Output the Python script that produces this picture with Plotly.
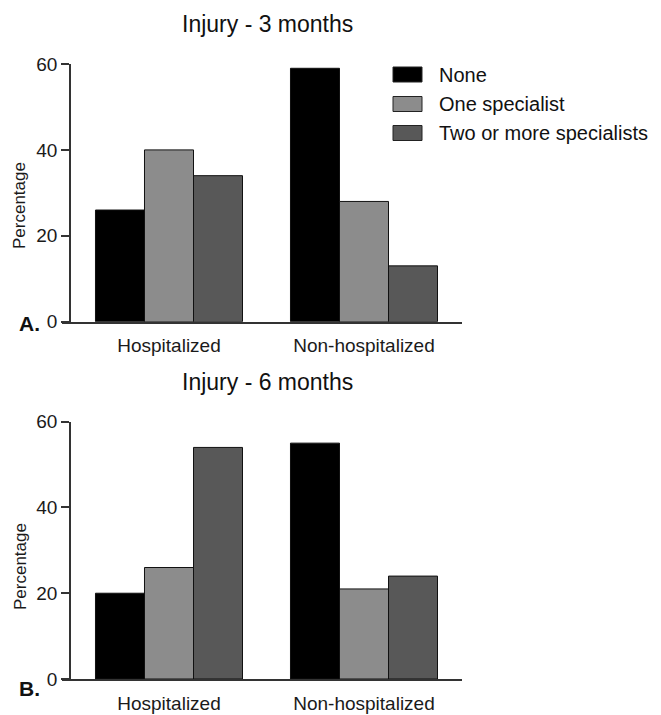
import plotly.graph_objects as go

categories = ["Hospitalized", "Non-hospitalized"]
series_names = ["None", "One specialist", "Two or more specialists"]
values_3m = {
    "None": [26, 59],
    "One specialist": [40, 28],
    "Two or more specialists": [34, 13],
}
values_6m = {
    "None": [20, 55],
    "One specialist": [26, 21],
    "Two or more specialists": [54, 24],
}
titles = ["Injury - 3 months", "Injury - 6 months"]
panel_labels = ["A.", "B."]
y_ticks = [0, 20, 40, 60]

colors = {"None": "#000000", "One specialist": "#8c8c8c", "Two or more specialists": "#585858"}

W, H = 661, 715
ML, MR = 62, 199
PW = W - ML - MR


def px2x(px):
    return (px - ML) / PW


def py2y(py):
    return 1 - py / H


FONT = "Liberation Sans, Arial, sans-serif"
fig = go.Figure()

for i, vals in enumerate([values_3m, values_6m]):
    xa = "x" if i == 0 else "x2"
    ya = "y" if i == 0 else "y2"
    for name in series_names:
        fig.add_trace(go.Bar(
            x=categories, y=vals[name], name=name, xaxis=xa, yaxis=ya,
            marker=dict(color=colors[name], line=dict(color="#111111", width=1)),
            showlegend=False,
        ))

domains = [[py2y(321.7), py2y(64)], [py2y(679), py2y(421.7)]]
axis_line = "#333333"
for i in range(2):
    sfx = "" if i == 0 else "2"
    fig.update_layout(**{
        "xaxis" + sfx: dict(
            domain=[0, 1], anchor="y" + sfx, type="category", automargin=False,
            range=[-0.5487, 1.5026], showline=True, linecolor=axis_line, linewidth=1.5,
            ticks="outside", ticklen=6, tickcolor="rgba(0,0,0,0)",
            tickfont=dict(family=FONT, size=19, color="#1a1a1a"), showgrid=False,
            zeroline=False, fixedrange=True,
        ),
        "yaxis" + sfx: dict(
            domain=domains[i], anchor="free", position=8 / PW, range=[0, 60], automargin=False,
            tickvals=y_ticks, ticks="outside", ticklen=8, tickwidth=1.5, tickcolor=axis_line,
            showline=True, linecolor=axis_line, linewidth=1.5, showgrid=False, zeroline=False,
            tickfont=dict(family=FONT, size=19, color="#1a1a1a"),
        ),
    })

annotations = []
title_y = [24, 382]
label_y = [323, 688]
ytitle_y = [206, 567]
for i in range(2):
    annotations.append(dict(text=titles[i], x=px2x(267), y=py2y(title_y[i]), xref="paper", yref="paper",
                            showarrow=False, font=dict(family=FONT, size=23, color="#111111"),
                            xanchor="center", yanchor="middle"))
    annotations.append(dict(text="<b>" + panel_labels[i] + "</b>", x=px2x(17), y=py2y(label_y[i]),
                            xref="paper", yref="paper", showarrow=False,
                            font=dict(family=FONT, size=21, color="#111111"),
                            xanchor="left", yanchor="middle"))
    annotations.append(dict(text="Percentage", x=px2x(20), y=py2y(ytitle_y[i]), xref="paper", yref="paper",
                            showarrow=False, textangle=-90,
                            font=dict(family=FONT, size=17, color="#1a1a1a"),
                            xanchor="center", yanchor="middle"))

shapes = []
legend_rows = [74.5, 104, 133]
for name, cy in zip(series_names, legend_rows):
    shapes.append(dict(type="rect", xref="paper", yref="paper",
                       x0=px2x(393), x1=px2x(422), y0=py2y(cy + 7.5), y1=py2y(cy - 7.5),
                       fillcolor=colors[name], line=dict(color="#222222", width=1)))
    annotations.append(dict(text=name, x=px2x(437), y=py2y(cy), xref="paper", yref="paper",
                            showarrow=False, xanchor="left", yanchor="middle",
                            font=dict(family=FONT, size=20, color="#111111")))

fig.update_layout(
    width=W, height=H, margin=dict(l=ML, r=MR, t=0, b=0, autoexpand=False),
    paper_bgcolor="white", plot_bgcolor="white",
    barmode="group", bargap=0.246, bargroupgap=0,
    annotations=annotations, shapes=shapes, showlegend=False,
)

fig.write_html(
    "out.html",
    config={"displayModeBar": False},
    post_script="document.body.style.margin='0';document.body.style.overflow='hidden';",
)
